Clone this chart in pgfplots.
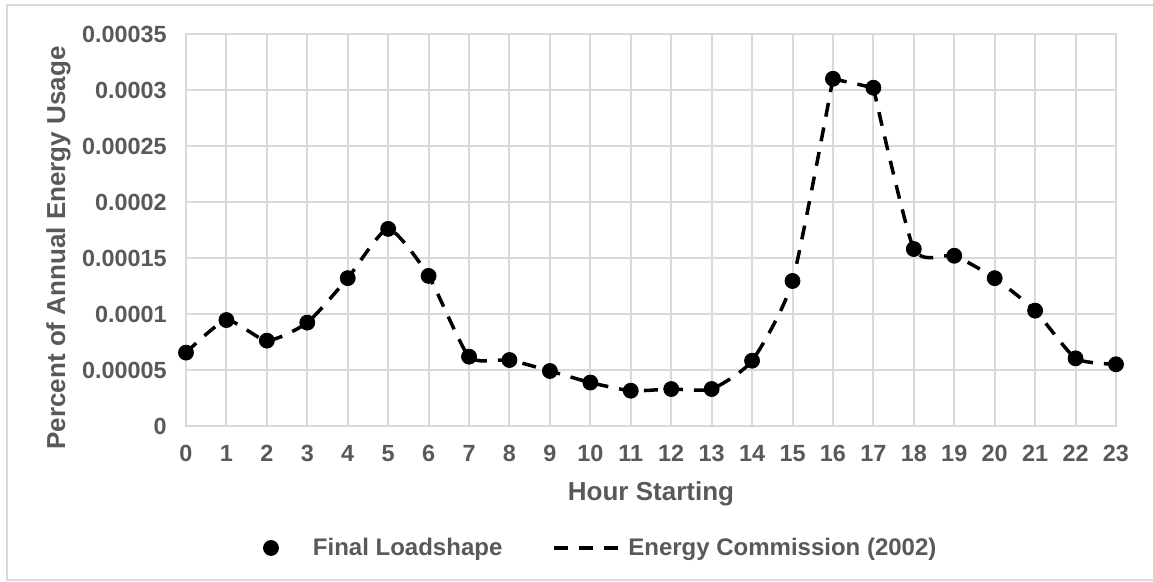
\documentclass[border=0pt]{standalone}
\usepackage{pgfplots}
\pgfplotsset{compat=1.18}
\usepackage{fontspec}
\setmainfont{Liberation Sans}
\definecolor{gridgray}{HTML}{D9D9D9}
\definecolor{txtgray}{HTML}{595959}
\pgfplotsset{
  markleg/.style={legend image code/.code={\path[draw=none,fill=none] (-4pt,-4pt) rectangle (21pt,4pt);
    \draw[##1] plot coordinates {(0pt,0pt)};}},
  dashleg/.style={legend image code/.code={\path[draw=none,fill=none] (0pt,-4pt) rectangle (63pt,4pt);
    \draw[##1] (26pt,0pt) -- (58pt,0pt);}},
  dashline/.style={black, line width=1.75pt, dash pattern=on 7pt off 5.5pt},
}
\pgfplotstableread{
hour val
0 0.0000655
1 0.0000946
2 0.0000762
3 0.0000923
4 0.000132
5 0.000176
6 0.000134
7 0.0000619
8 0.0000589
9 0.0000491
10 0.0000388
11 0.0000315
12 0.000033
13 0.000033
14 0.0000583
15 0.0001295
16 0.00031
17 0.000302
18 0.000158
19 0.000152
20 0.000132
21 0.000103
22 0.0000604
23 0.0000551
}\loadshape
\begin{document}
\begin{tikzpicture}
\useasboundingbox (-93pt,-78pt) rectangle (483.5pt,213pt);
\draw[gridgray, line width=1pt] (-89.5pt,-77pt) rectangle (500pt,210.5pt);
\begin{axis}[
  at={(0pt,0pt)}, anchor=south west,
  scale only axis, width=465pt, height=196pt,
  xmin=0, xmax=23, ymin=0, ymax=0.00035,
  xtick={0,1,...,23},
  ytick={0,0.00005,0.0001,0.00015,0.0002,0.00025,0.0003,0.00035},
  yticklabels={0,0.00005,0.0001,0.00015,0.0002,0.00025,0.0003,0.00035},
  scaled y ticks=false,
  grid=major,
  major grid style={draw=gridgray, line width=1pt},
  axis line style={draw=gridgray, line width=1pt},
  major tick length=0pt,
  /pgf/number format/assume math mode=true,
  tick label style={font=\fontsize{11.7}{13}\selectfont\bfseries, text=txtgray, inner sep=0pt},
  yticklabel style={anchor=east, xshift=-9.5pt},
  xticklabel style={anchor=north, yshift=-9.5pt},
  label style={font=\fontsize{13}{15}\selectfont\bfseries, text=txtgray},
  xlabel={Hour Starting},
  xlabel style={at={(axis description cs:0.5,-0.1888)}, anchor=base},
  ylabel={Percent of Annual Energy Usage},
  ylabel style={at={(axis description cs:-0.1301,0.4541)}, anchor=base},
  legend columns=2,
  legend cell align=left,
  legend style={at={(axis description cs:0.0828,-0.3112)}, anchor=west,
    draw=none, fill=none, inner sep=0pt, outer sep=0pt, column sep=0pt,
    font=\fontsize{12}{14}\selectfont\bfseries, text=txtgray,
    nodes={inner sep=0pt}},
  clip=false,
]
\addplot[only marks, mark=*, mark size=3.75pt, black, markleg]
  table[x=hour, y=val] {\loadshape};
\addlegendentry{Final Loadshape}
\addplot[dashline, smooth, tension=0.35, dashleg, restrict x to domain=0:16]
  table[x=hour, y=val] {\loadshape};
\addlegendentry{Energy Commission (2002)}
\addplot[dashline, forget plot, restrict x to domain=16:17]
  table[x=hour, y=val] {\loadshape};
\addplot[dashline, smooth, tension=0.35, forget plot, restrict x to domain=17:23]
  table[x=hour, y=val] {\loadshape};
\end{axis}
\end{tikzpicture}
\end{document}
